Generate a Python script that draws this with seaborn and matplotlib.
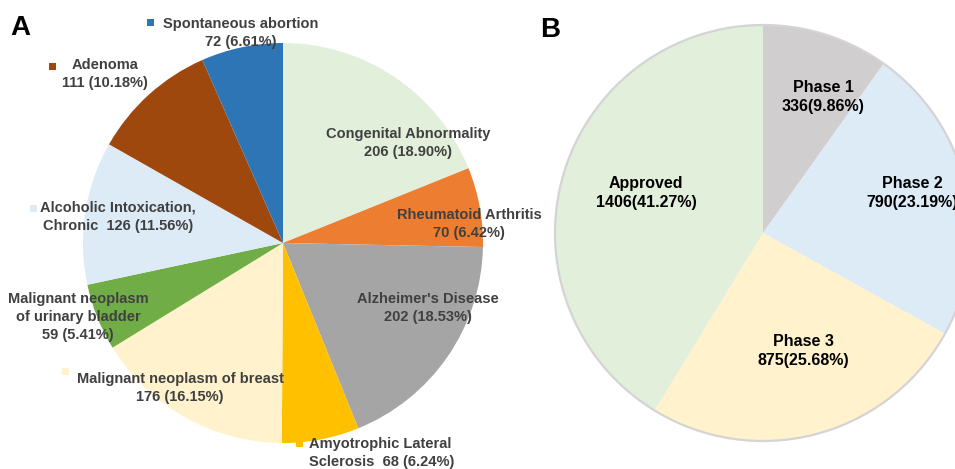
import matplotlib
matplotlib.use("Agg")
import matplotlib.pyplot as plt
import seaborn as sns
from matplotlib.patches import Rectangle, Circle

sns.set_theme(style="white")
plt.rcParams['font.family'] = ['Liberation Sans', 'DejaVu Sans']

# ---------------- data ----------------
cats_a = ["Congenital Abnormality", "Rheumatoid Arthritis", "Alzheimer's Disease",
          "Amyotrophic Lateral Sclerosis", "Malignant neoplasm of breast",
          "Malignant neoplasm of urinary bladder", "Alcoholic Intoxication, Chronic",
          "Adenoma", "Spontaneous abortion"]
vals_a = [206, 70, 202, 68, 176, 59, 126, 111, 72]
colors_a = ["#E2EFDA", "#ED7D31", "#A5A5A5", "#FFC000", "#FFF2CC",
            "#70AD47", "#DDEBF7", "#9E480E", "#2E75B6"]

cats_b = ["Phase 1", "Phase 2", "Phase 3", "Approved"]
vals_b = [336, 790, 875, 1406]
colors_b = ["#D0CECE", "#DDEBF7", "#FFF2CC", "#E2EFDA"]

# ---------------- layout ----------------
W, H = 955, 469
fig = plt.figure(figsize=(W / 100, H / 100), dpi=100)
ax = fig.add_axes([0, 0, 1, 1])

def py(y):
    return H - y

ax.pie(vals_a, colors=colors_a, startangle=90, counterclock=False,
       center=(283, py(243)), radius=200, wedgeprops=dict(linewidth=0), frame=False)
ax.pie(vals_b, colors=colors_b, startangle=90, counterclock=False,
       center=(763, py(233)), radius=208, wedgeprops=dict(linewidth=0), frame=False)
ax.add_patch(Circle((763, py(233)), 208, fill=False, edgecolor="#D4D4D4", lw=1.6))

ax.set_xlim(0, W)
ax.set_ylim(0, H)
ax.set_aspect('equal')
ax.axis('off')

tot_a = sum(vals_a)
tot_b = sum(vals_b)

def pct(v, t):
    return f"{100 * v / t:.2f}%"

# label text templates for panel A (line breaks as in reference)
wrap_a = {
    "Amyotrophic Lateral Sclerosis": "Amyotrophic Lateral\nSclerosis  {v} ({p})",
    "Malignant neoplasm of urinary bladder": "Malignant neoplasm\nof urinary bladder\n{v} ({p})",
    "Alcoholic Intoxication, Chronic": "Alcoholic Intoxication,\nChronic  {v} ({p})",
}
# (x, y, ha, key square position or None)
pos_a = {
    "Congenital Abnormality": (408, 143, "center", None),
    "Rheumatoid Arthritis": (469, 224, "center", None),
    "Alzheimer's Disease": (428, 308, "center", None),
    "Amyotrophic Lateral Sclerosis": (309, 453, "left", (299, 443)),
    "Malignant neoplasm of breast": (180, 388, "center", (65, 371)),
    "Malignant neoplasm of urinary bladder": (78, 317, "center", None),
    "Alcoholic Intoxication, Chronic": (118, 217, "center", (33, 208)),
    "Adenoma": (105, 74, "center", (52, 66)),
    "Spontaneous abortion": (241, 33, "center", (150, 22)),
}

for c, v, col in zip(cats_a, vals_a, colors_a):
    tmpl = wrap_a.get(c, c + "\n{v} ({p})")
    txt = tmpl.format(v=v, p=pct(v, tot_a))
    x, y, ha, sq = pos_a[c]
    ax.text(x, py(y), txt, ha=ha, va="center", fontsize=10.5, fontweight="bold",
            color="#404040", linespacing=1.38,
            multialignment="center" if ha == "center" else "left")
    if sq is not None:
        s = 7
        ax.add_patch(Rectangle((sq[0] - s / 2, py(sq[1]) - s / 2), s, s,
                               facecolor=col, edgecolor="none"))

pos_b = {
    "Phase 1": (823, 97),
    "Phase 2": (912, 193),
    "Phase 3": (803, 351),
    "Approved": (646, 193),
}
for c, v in zip(cats_b, vals_b):
    x, y = pos_b[c]
    ax.text(x, py(y), f"{c}\n{v}({pct(v, tot_b)})", ha="center", va="center",
            fontsize=11.5, fontweight="bold", color="black", linespacing=1.4)

ax.text(10, py(28), "A", fontsize=20, fontweight="bold", ha="left", va="center", color="black")
ax.text(540, py(30), "B", fontsize=20, fontweight="bold", ha="left", va="center", color="black")

fig.savefig("out.png", dpi=100)
